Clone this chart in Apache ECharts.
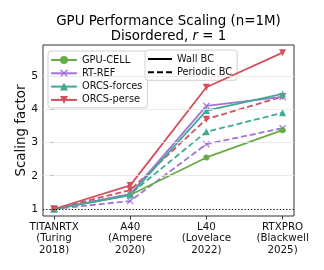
<!DOCTYPE html>
<html><head><meta charset="utf-8">
<script src="https://cdn.jsdelivr.net/npm/echarts@6/dist/echarts.min.js"></script>
<style>html,body{margin:0;padding:0;background:#fff}#c{width:324px;height:270px}</style>
</head><body><div id="c"></div>
<script>
const categories = ['TITANRTX\n(Turing\n2018)', 'A40\n(Ampere\n2020)', 'L40\n(Lovelace\n2022)', 'RTXPRO\n(Blackwell\n2025)'];
const xPos = [0, 1, 2, 3];
const yTicks = [1, 2, 3, 4, 5];
const gpuCellWall = [1.0, 1.42, 2.55, 3.37];
const rtRefWall = [1.0, 1.45, 4.10, 4.37];
const rtRefPeriodic = [1.0, 1.24, 2.95, 3.43];
const orcsForcesWall = [1.0, 1.42, 3.96, 4.46];
const orcsForcesPeriodic = [1.0, 1.45, 3.32, 3.89];
const orcsPerseWall = [1.0, 1.71, 4.66, 5.70];
const orcsPersePeriodic = [1.0, 1.57, 3.70, 4.38];

const FONT = 'DejaVu Sans';
const C = {green:'#6aaa48', purple:'#a273d8', teal:'#3fab94', red:'#d3505f'};
const X_SYM = 'path://M0,1.2L1.2,0L5,3.8L8.8,0L10,1.2L6.2,5L10,8.8L8.8,10L5,6.2L1.2,10L0,8.8L3.8,5Z';
const TRI_DOWN = 'path://M0,0L10,0L5,9Z';
const pts = v => v.map((y, i) => [xPos[i], y]);

function mk(name, data, color, symbol, dashed, size) {
  return {
    name, type: 'line', data: pts(data), symbol, symbolSize: size,
    lineStyle: {color, width: 1.8, type: dashed ? [6, 3] : 'solid'},
    itemStyle: {color, borderWidth: 0},
    z: dashed ? 3 : 4, animation: false
  };
}

const series = [
  {name: '_grid', type: 'line', data: [], z: 1, animation: false,
   markLine: {silent: true, symbol: 'none', label: {show: false}, animation: false,
     data: [2,3,4,5].map(v => ({yAxis: v, lineStyle: {color: '#e6e6e6', width: 0.8, type: 'solid'}}))
       .concat([{yAxis: 1, lineStyle: {color: '#000', width: 1.1, type: [1.2, 2]}}])}},
  mk('GPU-CELL', gpuCellWall, C.green, 'circle', false, 6),
  mk('RT-REF', rtRefWall, C.purple, X_SYM, false, 7),
  mk('RT-REF periodic', rtRefPeriodic, C.purple, X_SYM, true, 7),
  mk('ORCS-forces', orcsForcesWall, C.teal, 'triangle', false, 7),
  mk('ORCS-forces periodic', orcsForcesPeriodic, C.teal, 'triangle', true, 7),
  mk('ORCS-perse', orcsPerseWall, C.red, TRI_DOWN, false, 7),
  mk('ORCS-perse periodic', orcsPersePeriodic, C.red, TRI_DOWN, true, 7),
  {name: 'Wall BC', type: 'line', data: [], symbol: 'none', lineStyle: {color: '#000', width: 2}, itemStyle: {color: '#000', opacity: 0}},
  {name: 'Periodic BC', type: 'line', data: [], symbol: 'none', lineStyle: {color: '#000', width: 2, type: [6, 3]}, itemStyle: {color: '#000', opacity: 0}}
];

const legendBase = {
  orient: 'vertical', itemWidth: 26, itemHeight: 10, itemGap: 3.3,
  textStyle: {fontFamily: FONT, fontSize: 9.8, color: '#111'},
  borderColor: '#d0d0d0', borderWidth: 1, borderRadius: 3,
  backgroundColor: 'rgba(255,255,255,0.85)', selectedMode: false
};

const chart = echarts.init(document.getElementById('c'), null, {renderer: 'canvas'});
chart.setOption({
  backgroundColor: '#fff',
  animation: false,
  textStyle: {fontFamily: FONT},
  graphic: [{
    type: 'text', x: 168.5, y: 14,
    style: {
      text: '{a|GPU Performance Scaling (n=1M)}\n{a|Disordered, }{i|r}{a| = 1}',
      align: 'center', verticalAlign: 'top', lineHeight: 15,
      rich: {
        a: {fontFamily: FONT, fontSize: 13.4, fill: '#000', lineHeight: 15},
        i: {fontFamily: FONT, fontSize: 13.4, fontStyle: 'italic', fill: '#000', lineHeight: 15}
      }
    }
  }],
  legend: [
    Object.assign({}, legendBase, {left: 48, top: 51, padding: [4, 5, 3, 2],
      data: ['GPU-CELL', 'RT-REF', 'ORCS-forces', 'ORCS-perse']}),
    Object.assign({}, legendBase, {left: 145, top: 50, padding: [4, 5, 3, 2], itemWidth: 24,
      data: [{name: 'Wall BC', itemStyle: {opacity: 0}}, {name: 'Periodic BC', itemStyle: {opacity: 0}}]})
  ],
  grid: {left: 43, right: 30, top: 45, bottom: 54, show: true, borderColor: '#333', borderWidth: 1, backgroundColor: 'transparent'},
  xAxis: {
    type: 'value', min: -0.145, max: 3.15,
    axisLine: {show: false}, splitLine: {show: false},
    axisTick: {show: true, length: 3.5, customValues: xPos, lineStyle: {color: '#333'}},
    axisLabel: {customValues: xPos, formatter: v => categories[Math.round(v)] || '',
      fontFamily: FONT, fontSize: 10.3, color: '#111', lineHeight: 11.7, margin: 5, align: 'center'}
  },
  yAxis: {
    type: 'value', min: 0.79, max: 5.93,
    name: 'Scaling factor', nameLocation: 'middle', nameGap: 15, nameMoveOverlap: false,
    nameTextStyle: {fontFamily: FONT, fontSize: 13.4, color: '#111'},
    axisLine: {show: false}, splitLine: {show: false},
    axisTick: {show: true, length: 3.5, customValues: yTicks, lineStyle: {color: '#333'}},
    axisLabel: {customValues: yTicks, fontFamily: FONT, fontSize: 10.8, color: '#111', margin: 5}
  },
  series
});
</script></body></html>
